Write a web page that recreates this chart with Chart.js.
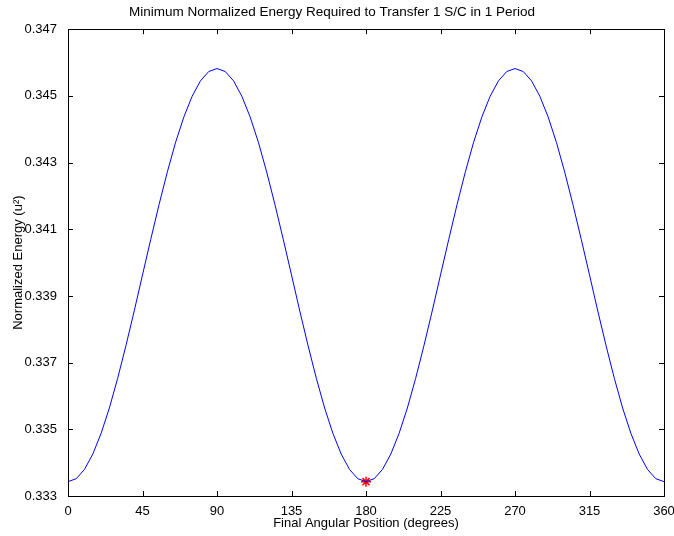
<!DOCTYPE html>
<html>
<head>
<meta charset="utf-8">
<script src="https://cdn.jsdelivr.net/npm/chart.js@4.4.1/dist/chart.umd.min.js"></script>
<style>
  html, body { margin: 0; padding: 0; background: #fff; }
  #wrap { width: 674px; height: 536px; }
</style>
</head>
<body>
<div id="wrap"><canvas id="energyChart" width="674" height="536"></canvas></div>
<script>
// final angular position (degrees), sampled every 5 degrees
const angles = [0, 5, 10, 15, 20, 25, 30, 35, 40, 45, 50, 55, 60, 65, 70, 75, 80, 85, 90,
  95, 100, 105, 110, 115, 120, 125, 130, 135, 140, 145, 150, 155, 160, 165, 170, 175, 180,
  185, 190, 195, 200, 205, 210, 215, 220, 225, 230, 235, 240, 245, 250, 255, 260, 265, 270,
  275, 280, 285, 290, 295, 300, 305, 310, 315, 320, 325, 330, 335, 340, 345, 350, 355, 360];

// normalized energy
const energy = [0.33343, 0.33352, 0.33380, 0.33426, 0.33488, 0.33564, 0.33653, 0.33751, 0.33855,
  0.33963, 0.34070, 0.34174, 0.34272, 0.34361, 0.34437, 0.34499, 0.34545, 0.34573, 0.34582,
  0.34573, 0.34545, 0.34499, 0.34437, 0.34361, 0.34272, 0.34174, 0.34070, 0.33963, 0.33855,
  0.33751, 0.33653, 0.33564, 0.33488, 0.33426, 0.33380, 0.33352, 0.33343,
  0.33352, 0.33380, 0.33426, 0.33488, 0.33564, 0.33653, 0.33751, 0.33855,
  0.33963, 0.34070, 0.34174, 0.34272, 0.34361, 0.34437, 0.34499, 0.34545, 0.34573, 0.34582,
  0.34573, 0.34545, 0.34499, 0.34437, 0.34361, 0.34272, 0.34174, 0.34070, 0.33963, 0.33855,
  0.33751, 0.33653, 0.33564, 0.33488, 0.33426, 0.33380, 0.33352, 0.33343];

// the minimum, marked with a red star
const minAngle = [180];
const minEnergy = [0.33343];

const xTicks = [0, 45, 90, 135, 180, 225, 270, 315, 360];
const yTicks = [0.333, 0.335, 0.337, 0.339, 0.341, 0.343, 0.345, 0.347];

const font = 'Liberation Sans, Arial, Helvetica, sans-serif';

// matlab style box with ticks pointing inward
const boxPlugin = {
  id: 'box',
  afterDraw(chart) {
    const ctx = chart.ctx;
    const a = chart.chartArea;
    const xs = chart.scales.x, ys = chart.scales.y;
    const len = 5;
    ctx.save();
    ctx.strokeStyle = '#000';
    ctx.lineWidth = 1;
    ctx.strokeRect(Math.round(a.left) + 0.5, Math.round(a.top) + 0.5,
      Math.round(a.right - a.left), Math.round(a.bottom - a.top));
    ctx.beginPath();
    xTicks.forEach(v => {
      const px = Math.round(xs.getPixelForValue(v)) + 0.5;
      ctx.moveTo(px, a.bottom); ctx.lineTo(px, a.bottom - len);
      ctx.moveTo(px, a.top); ctx.lineTo(px, a.top + len);
    });
    yTicks.forEach(v => {
      const py = Math.round(ys.getPixelForValue(v)) + 0.5;
      ctx.moveTo(a.left, py); ctx.lineTo(a.left + len, py);
      ctx.moveTo(a.right, py); ctx.lineTo(a.right - len, py);
    });
    ctx.stroke();
    ctx.restore();
  }
};

const ctx = document.getElementById('energyChart').getContext('2d');
new Chart(ctx, {
  type: 'scatter',
  data: {
    datasets: [{
      data: angles.map((a, i) => ({ x: a, y: energy[i] })),
      showLine: true,
      borderColor: '#0000ff',
      borderWidth: 1,
      pointRadius: 0,
      tension: 0
    }, {
      data: minAngle.map((a, i) => ({ x: a, y: minEnergy[i] })),
      showLine: false,
      pointStyle: 'star',
      pointRadius: 5,
      borderColor: '#ff0000',
      backgroundColor: '#ff0000',
      pointBorderWidth: 1.5
    }]
  },
  options: {
    responsive: false,
    animation: false,
    layout: { padding: { left: 0, right: 10, top: 0, bottom: 0 } },
    plugins: {
      legend: { display: false },
      tooltip: { enabled: false },
      title: {
        display: true,
        text: 'Minimum Normalized Energy Required to Transfer 1 S/C in 1 Period',
        color: '#000',
        font: { family: font, size: 13.5, weight: 'normal' },
        padding: { top: 4, bottom: 9 }
      }
    },
    scales: {
      x: {
        type: 'linear',
        min: 0,
        max: 360,
        afterBuildTicks: s => { s.ticks = xTicks.map(v => ({ value: v })); },
        afterFit: s => { s.height = 40; s.paddingLeft = 0; s.paddingRight = 0; },
        grid: { display: false },
        border: { display: false },
        ticks: { color: '#000', font: { family: font, size: 13 }, padding: 0, maxRotation: 0 },
        title: {
          display: true,
          text: 'Final Angular Position (degrees)',
          color: '#000',
          font: { family: font, size: 13 },
          padding: { top: 0, bottom: 5 }
        }
      },
      y: {
        type: 'linear',
        min: 0.333,
        max: 0.347,
        afterBuildTicks: s => { s.ticks = yTicks.map(v => ({ value: v })); },
        afterFit: s => { s.width = 68; s.paddingTop = 0; s.paddingBottom = 0; },
        grid: { display: false },
        border: { display: false },
        ticks: {
          color: '#000',
          font: { family: font, size: 13 },
          padding: 3,
          callback: v => v.toFixed(3)
        },
        title: {
          display: true,
          text: 'Normalized Energy (u\u00b2)',
          color: '#000',
          font: { family: font, size: 13 },
          padding: { top: 11, bottom: 0 }
        }
      }
    }
  },
  plugins: [boxPlugin]
});
</script>
</body>
</html>
